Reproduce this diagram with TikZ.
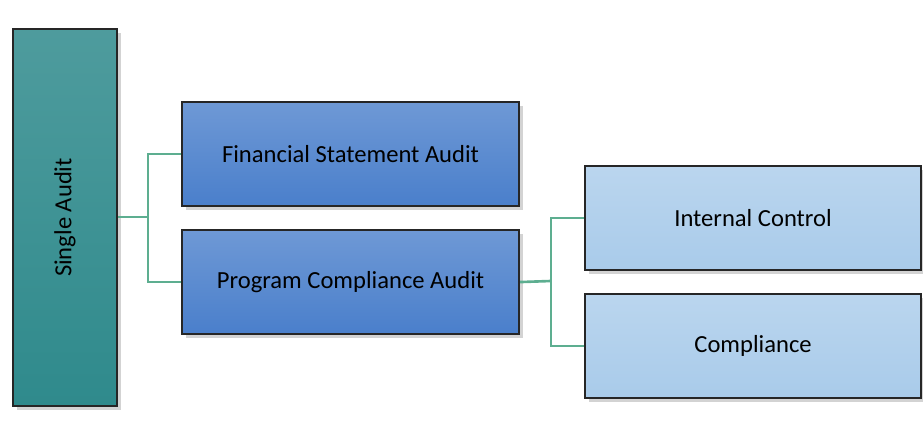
\documentclass[tikz,border=0pt]{standalone}
\usepackage{fontspec}
\setmainfont{Carlito}
\usetikzlibrary{shadows}
\definecolor{teal1}{HTML}{2F8A8C}
\definecolor{blue1}{HTML}{4A7FCB}
\definecolor{lblue}{HTML}{A9CBEA}
\definecolor{conn}{HTML}{5DAE90}
\tikzset{
  box/.style={draw=black!85, line width=1.2pt, anchor=north west, inner sep=0pt,
    font=\fontsize{14}{16}\selectfont, drop shadow={opacity=0.35, shadow xshift=2pt, shadow yshift=-2pt}},
  lnk/.style={draw=conn, line width=1.5pt}
}
\begin{document}
\begin{tikzpicture}[x=0.02cm,y=-0.02cm]
\useasboundingbox (0,0) rectangle (923,432);
\node[box, top color=teal1!85, bottom color=teal1, minimum width=104*0.02cm, minimum height=377*0.02cm] (sa) at (12,28) {};
\node[rotate=90, font=\fontsize{14}{16}\selectfont] at (sa.center) {Single Audit};
\node[box, top color=blue1!80, bottom color=blue1, minimum width=337*0.02cm, minimum height=104*0.02cm] (fsa) at (181,101) {Financial Statement Audit};
\node[box, top color=blue1!80, bottom color=blue1, minimum width=337*0.02cm, minimum height=104*0.02cm] (pca) at (181,229) {Program Compliance Audit};
\node[box, top color=lblue!80, bottom color=lblue, minimum width=336*0.02cm, minimum height=104*0.02cm] (ic) at (584,165) {Internal Control};
\node[box, top color=lblue!80, bottom color=lblue, minimum width=336*0.02cm, minimum height=104*0.02cm] (co) at (584,293) {Compliance};
\coordinate (j1) at (148,217);
\coordinate (j2) at (551,281);
\draw[lnk] (sa.east |- j1) -- (j1);
\draw[lnk] (fsa.west) -| (j1) |- (pca.west);
\draw[lnk] (pca.east) -- (j2);
\draw[lnk] (ic.west) -| (j2) |- (co.west);
\end{tikzpicture}
\end{document}
